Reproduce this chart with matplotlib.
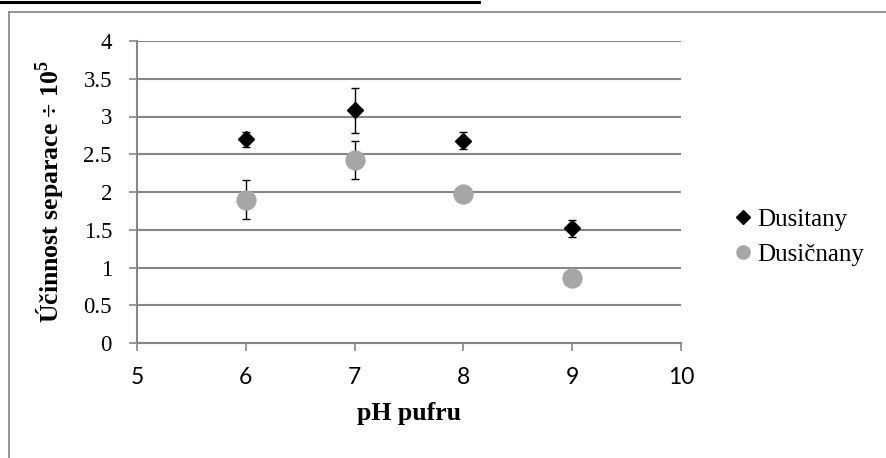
import matplotlib
matplotlib.use("Agg")
import matplotlib.pyplot as plt
from matplotlib.lines import Line2D

# Data
ph = [6, 7, 8, 9]
dusitany = [2.70, 3.08, 2.68, 1.52]
dusitany_err = [0.10, 0.30, 0.11, 0.11]
dusicnany = [1.90, 2.42, 1.98, 0.86]
dusicnany_err = [0.26, 0.25, 0.03, 0.03]
series_names = ["Dusitany", "Dusičnany"]
x_ticks = [5, 6, 7, 8, 9, 10]
y_ticks = [0, 0.5, 1, 1.5, 2, 2.5, 3, 3.5, 4]
y_tick_labels = ["0", "0.5", "1", "1.5", "2", "2.5", "3", "3.5", "4"]
x_label = "pH pufru"
y_label = "Účinnost separace ÷ 10$^{\\mathbf{5}}$"

serif = ["Liberation Serif", "DejaVu Serif"]
sans = ["Lato", "Liberation Sans", "DejaVu Sans"]
plt.rcParams["mathtext.fontset"] = "custom"
plt.rcParams["mathtext.rm"] = "Liberation Serif"
plt.rcParams["mathtext.bf"] = "Liberation Serif:bold"

W, H = 887, 458
fig = plt.figure(figsize=(W / 100, H / 100), dpi=100)
ax = fig.add_axes([137 / W, 1 - 343 / H, 544 / W, 302 / H])

grid_c = "#868686"
dark_c = "black"
light_c = "#A6A6A6"
ax.set_xlim(5, 10)
ax.set_ylim(0, 4)
ax.set_yticks(y_ticks)
ax.set_yticklabels(y_tick_labels, fontfamily=serif, fontsize=16.5)
ax.set_xticks(x_ticks)
ax.set_xticklabels([str(v) for v in x_ticks], fontfamily=sans, fontsize=16.5)
ax.grid(axis="y", color=grid_c, linewidth=1.5, zorder=0)
ax.set_axisbelow(True)
for s in ["top", "right"]:
    ax.spines[s].set_visible(False)
for s in ["left", "bottom"]:
    ax.spines[s].set_color(grid_c)
    ax.spines[s].set_linewidth(1.5)
ax.tick_params(axis="both", direction="out", color=grid_c, width=1.2, length=6)
ax.tick_params(axis="y", pad=12)
ax.tick_params(axis="x", pad=11)

ax.errorbar(ph, dusitany, yerr=dusitany_err, fmt="none", ecolor="black",
            elinewidth=1.0, capsize=3, capthick=1.0, zorder=2)
ax.errorbar(ph, dusicnany, yerr=dusicnany_err, fmt="none", ecolor="black",
            elinewidth=1.0, capsize=3, capthick=1.0, zorder=2)
ax.plot(ph, dusitany, linestyle="none", marker="D", markersize=8.6,
        color=dark_c, zorder=3)
ax.plot(ph, dusicnany, linestyle="none", marker="o", markersize=13.6,
        color=light_c, zorder=3)

ax.set_xlabel(x_label, fontfamily=serif, fontweight="bold", fontsize=18.5)
ax.xaxis.set_label_coords(0.5, -0.195)
ax.set_ylabel(y_label, fontfamily=serif, fontweight="bold", fontsize=18.5)
ax.yaxis.set_label_coords(-0.128, 0.5)

handles = [
    Line2D([], [], linestyle="none", marker="D", markersize=7.6, color=dark_c),
    Line2D([], [], linestyle="none", marker="o", markersize=9.5, color=light_c),
]
ax.legend(handles, series_names, loc="center left",
          bbox_to_anchor=(1.101, 0.35), frameon=False,
          prop={"family": serif, "size": 18}, handlelength=0.6,
          handletextpad=0.25, labelspacing=0.5, borderaxespad=0,
          borderpad=0)

# chart frame decorations
fig.add_artist(Line2D([0, 479 / W], [1 - 1.5 / H, 1 - 1.5 / H],
                      color="black", linewidth=2.2, transform=fig.transFigure))
fig.add_artist(Line2D([9 / W, 1], [1 - 12 / H, 1 - 12 / H],
                      color="#8C8C8C", linewidth=1.3, transform=fig.transFigure))
fig.add_artist(Line2D([9 / W, 9 / W], [0, 1 - 12 / H],
                      color="#8C8C8C", linewidth=1.3, transform=fig.transFigure))

fig.savefig("out.png", dpi=100)
